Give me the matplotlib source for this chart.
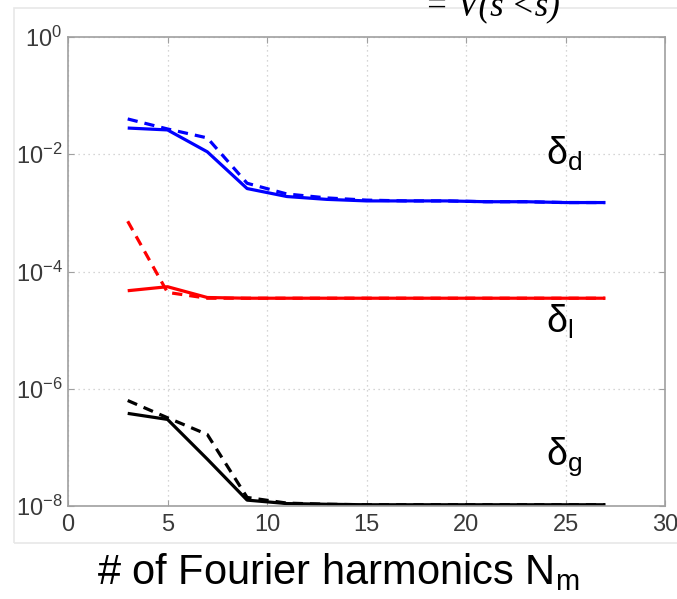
import numpy as np
import matplotlib
matplotlib.use("Agg")
import matplotlib.pyplot as plt
import matplotlib.patches as patches
from matplotlib.ticker import NullLocator

plt.rcParams['font.family'] = ['Liberation Sans', 'DejaVu Sans']
plt.rcParams['mathtext.fontset'] = 'custom'
plt.rcParams['mathtext.rm'] = 'Liberation Sans'
plt.rcParams['mathtext.it'] = 'Liberation Sans:italic'

# number of Fourier harmonics
harmonics = [3, 5, 7, 9, 11, 13, 15, 17, 19, 21, 23, 25, 27]

delta_d_solid = [2.8e-2, 2.6e-2, 1.1e-2, 2.6e-3, 1.9e-3, 1.7e-3, 1.6e-3, 1.6e-3, 1.6e-3, 1.55e-3, 1.55e-3, 1.5e-3, 1.5e-3]
delta_d_dash = [4.0e-2, 2.7e-2, 1.9e-2, 3.2e-3, 2.1e-3, 1.8e-3, 1.65e-3, 1.6e-3, 1.6e-3, 1.55e-3, 1.55e-3, 1.5e-3, 1.5e-3]
delta_l_solid = [4.7e-5, 5.5e-5, 3.6e-5, 3.5e-5, 3.5e-5, 3.5e-5, 3.5e-5, 3.5e-5, 3.5e-5, 3.5e-5, 3.5e-5, 3.5e-5, 3.5e-5]
delta_l_dash = [7.2e-4, 4.4e-5, 3.5e-5, 3.5e-5, 3.5e-5, 3.5e-5, 3.5e-5, 3.5e-5, 3.5e-5, 3.5e-5, 3.5e-5, 3.5e-5, 3.5e-5]
delta_g_solid = [3.8e-7, 3.0e-7, 6.3e-8, 1.26e-8, 1.1e-8, 1.07e-8, 1.05e-8, 1.05e-8, 1.05e-8, 1.05e-8, 1.05e-8, 1.05e-8, 1.05e-8]
delta_g_dash = [6.3e-7, 3.2e-7, 1.66e-7, 1.4e-8, 1.12e-8, 1.07e-8, 1.05e-8, 1.05e-8, 1.05e-8, 1.05e-8, 1.05e-8, 1.05e-8, 1.05e-8]

fig = plt.figure(figsize=(6.77, 5.99), dpi=100)

# light frame around the plot area
fig.patches.append(patches.Rectangle((14/677, 1-543/599), 1.0, (543-8)/599,
                                     transform=fig.transFigure, fill=False,
                                     edgecolor='#e8e8e8', lw=1.2))

ax = fig.add_axes([68/677, 1-506/599, 597/677, 469/599])

dash = (0, (3.2, 2.2))
ax.plot(harmonics, delta_d_solid, color='#0000ff', lw=2.3, solid_capstyle='butt')
ax.plot(harmonics, delta_d_dash, color='#0000ff', lw=2.3, linestyle=dash)
ax.plot(harmonics, delta_l_solid, color='#ff0000', lw=2.3, solid_capstyle='butt')
ax.plot(harmonics, delta_l_dash, color='#ff0000', lw=2.3, linestyle=dash)
ax.plot(harmonics, delta_g_solid, color='black', lw=2.3, solid_capstyle='butt')
ax.plot(harmonics, delta_g_dash, color='black', lw=2.3, linestyle=dash)

ax.set_yscale('log')
ax.set_xlim(0, 30)
ax.set_ylim(1e-8, 1)
ax.set_xticks([0, 5, 10, 15, 20, 25, 30])
ax.set_yticks([1e-8, 1e-6, 1e-4, 1e-2, 1])
ax.set_yticklabels([r'$10^{-8}$', r'$10^{-6}$', r'$10^{-4}$', r'$10^{-2}$', r'$10^{0}$'])
ax.yaxis.set_minor_locator(NullLocator())

ax.grid(True, which='major', linestyle=(0, (1, 3)), color='#c8c8c8', lw=0.9)
for s in ax.spines.values():
    s.set_color('#a0a0a0')
    s.set_linewidth(1.2)
ax.tick_params(direction='in', length=4, color='#a0a0a0', top=True, right=True,
               labelsize=17, labelcolor='#3a3a3a')
ax.tick_params(axis='x', pad=6)
ax.tick_params(axis='y', pad=4)

ax.text(24.0, 10**-2.18, 'δ$_\\mathrm{d}$', fontsize=27, ha='left', va='baseline')
ax.text(24.0, 10**-5.05, 'δ$_\\mathrm{l}$', fontsize=27, ha='left', va='baseline')
ax.text(24.0, 10**-7.30, 'δ$_\\mathrm{g}$', fontsize=27, ha='left', va='baseline')

fig.text(338/677, 1-572/599, r'# of Fourier harmonics N$_\mathrm{m}$', fontsize=30,
         ha='center', va='center')

# clipped formula fragment at the top edge
fig.text(425/677, 1-15/599, "= V(s\u2032<s)", fontsize=25, family='Liberation Serif',
         style='italic', ha='left', va='baseline')

fig.savefig('out.png', dpi=100)
